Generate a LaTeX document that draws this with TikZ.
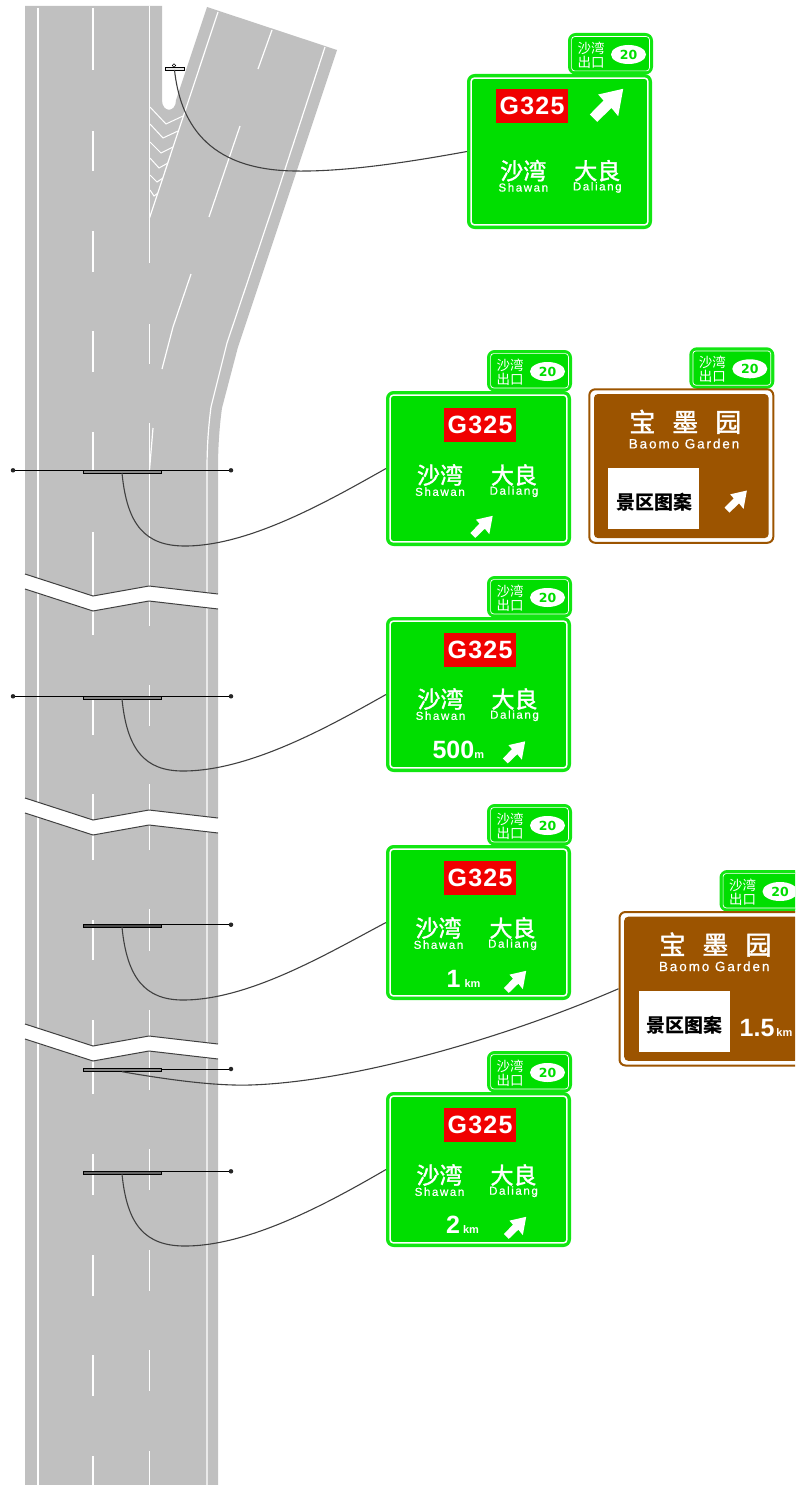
\documentclass[tikz,border=0pt]{standalone}
\usepackage{fontspec}
\setmainfont{Liberation Sans}
\newfontfamily\cjk{Noto Sans CJK SC}
\newfontfamily\cjkmid[FakeBold=1.5]{Noto Sans CJK SC}
\newfontfamily\spaced[LetterSpace=14,FakeBold=0.7]{Liberation Sans}
\newfontfamily\routefont[LetterSpace=5]{Liberation Sans}
\newfontfamily\ovalfont{DejaVu Sans}
\usetikzlibrary{shapes.geometric}
\definecolor{roadgrey}{HTML}{C0C0C0}
\definecolor{signgreen}{HTML}{00DE00}
\definecolor{rimgreen}{HTML}{12E612}
\definecolor{signbrown}{HTML}{9C5400}
\definecolor{routered}{HTML}{F00000}
\definecolor{wiregrey}{HTML}{404040}

% exit tab on top of a panel
\newcommand{\exittab}[1]{
  \node (#1tab)  at (101,-41)   [tabbox] {};
  \draw [tabring] ([shift={(3.6,3.6)}]#1tab.north west) rectangle ([shift={(-3.6,-3.6)}]#1tab.south east);
  \node (#1ta)   at (124,-26)   [tabtext] {沙湾};
  \node (#1tb)   at (124,-12)   [tabtext] {出口};
  \node (#1oval) at (161.5,-19.5) [oval]  {20};
}
% green panel: name, x, y, route x, route y, left name x, name y
\newcommand{\greensign}[7]{
  \begin{scope}[shift={(#2,#3)}]
  \exittab{#1}
  \node (#1) at (0,0) [panel, fill=signgreen, draw=rimgreen, line width=3.5pt, outer sep=1.75pt] {};
  \draw [ring] ([shift={(4.2,4.2)}]#1.north west) rectangle ([shift={(-4.2,-4.2)}]#1.south east);
  \node (#1route) at (#4,#5)            [route]   {G325};
  \node (#1na)    at (#6,#7)            [zhname]  {沙湾};
  \node (#1la)    at (#6,{#7+16.7})     [enname]  {Shawan};
  \node (#1nb)    at ({#6+74},#7)       [zhname]  {大良};
  \node (#1lb)    at ({#6+74},{#7+16.7}) [enname] {Daliang};
  \end{scope}
}
% brown panel: name, x, y
\newcommand{\brownsign}[3]{
  \begin{scope}[shift={(#2,#3)}]
  \exittab{#1}
  \node (#1) at (0,0) [panel, fill=white, draw=signbrown, line width=2pt, outer sep=1pt, minimum width=184pt, minimum height=153.5pt] {};
  \fill [signbrown, rounded corners=4pt] ([shift={(5.7,5.7)}]#1.north west) rectangle ([shift={(-5.7,-5.7)}]#1.south east);
  \node (#1na)  at (97,33.5)    [zhname, font=\cjkmid\fontsize{26}{26}\selectfont] {宝\hspace{17pt}墨\hspace{17pt}园};
  \node (#1la)  at (95.7,55.3)  [enname, font=\spaced\fontsize{13.5}{13.5}\selectfont] {Baomo Garden};
  \node (#1box) at (65.5,110.5) [picbox] {};
  \node (#1pic) at (65.7,114)   [pictext] {景区图案};
  \end{scope}
}
% diagonal arrow on a panel
\newcommand{\signarrow}[3]{
  \fill [white, shift={(#1,#2)}, scale=#3]
    (16.7,-16.7) -- (-8.3,-11) -- (-3,-5) -- (-16.7,9) -- (-9.3,16.3) -- (5,2.5) -- (11.7,10.7) -- cycle;
}

\begin{document}
\begin{tikzpicture}[
  x=1pt, y=-1pt,
  lane/.style    = {white, line width=1.2pt},
  chevron/.style = {white, line width=1pt},
  cutline/.style = {black!75, line width=1pt},
  arm/.style     = {black, line width=0.9pt},
  wire/.style    = {wiregrey, line width=1.1pt},
  gate/.style    = {rectangle, draw=black, fill=black!45, line width=0.8pt, minimum width=78pt, minimum height=3pt, inner sep=0, outer sep=0},
  dot/.style     = {circle, fill=black!85, minimum size=4.5pt, inner sep=0, outer sep=0},
  panel/.style   = {rectangle, anchor=north west, minimum width=181.5pt, minimum height=151.5pt, rounded corners=6pt, inner sep=0},
  ring/.style    = {white, line width=1.5pt, rounded corners=3pt},
  tabbox/.style  = {rectangle, anchor=north west, fill=signgreen, draw=rimgreen, line width=3.5pt, minimum width=81.5pt, minimum height=38pt, rounded corners=6pt, inner sep=0, outer sep=1.75pt},
  tabring/.style = {white, line width=0.7pt, rounded corners=3pt},
  tabtext/.style = {text=white, font=\cjk\fontsize{13.5}{13.5}\selectfont, inner sep=0},
  oval/.style    = {ellipse, fill=white, text=signgreen, minimum width=35pt, minimum height=19pt, inner sep=0, font=\ovalfont\bfseries\fontsize{12.5}{12.5}\selectfont},
  route/.style   = {rectangle, fill=routered, text=white, minimum width=71.5pt, minimum height=34pt, inner sep=0, font=\routefont\bfseries\fontsize{25}{25}\selectfont},
  zhname/.style  = {text=white, inner sep=0, font=\cjkmid\fontsize{23}{23}\selectfont},
  enname/.style  = {text=white, inner sep=0, font=\spaced\fontsize{11.5}{11.5}\selectfont},
  picbox/.style  = {rectangle, fill=white, minimum width=91pt, minimum height=61pt, inner sep=0},
  pictext/.style = {text=black, inner sep=0, font=\cjk\bfseries\fontsize{19}{19}\selectfont},
  dist/.style    = {text=white, inner sep=0, anchor=base, font=\bfseries\fontsize{25}{25}\selectfont},
  ]
  \useasboundingbox (0,0) rectangle (795,1485);
  \clip (0,0) rectangle (795,1485);

  % Road surface
  \fill [roadgrey] (25,6) -- (162,6) -- (162,100) .. controls (162,113) and (176,113) .. (176,100)
    -- (207,7) -- (337,50) -- (287,200) -- (238,347) -- (222,408) .. controls (219,430) and (218,450) .. (218,470)
    -- (218,1485) -- (25,1485) -- cycle;

  % Edge lines
  \draw [lane] (38,8) -- (38,1485);
  \draw [lane] (218,12) -- (149.5,218);
  \draw [lane] (325,47) -- (275,200) -- (227,343) -- (211,407) .. controls (208,430) and (207,450) .. (207,470) -- (207,1485);

  % Dashes
  \foreach \ya/\yb in {8/70, 131/171, 231/272, 331/372, 432/472, 532/596, 611/635, 700/735, 794/820, 834/860, 920/960, 1020/1046, 1061/1094, 1154/1195, 1255/1296, 1355/1396, 1456/1485}
    \draw [lane] (93,\ya) -- (93,\yb);
  \foreach \ya/\yb in {6/263, 324/364, 423/587, 601/626, 685/726, 784/810, 824/850, 909/951, 1010/1036, 1051/1090, 1149/1190, 1250/1291, 1350/1391, 1451/1485}
    \draw [lane] (149.5,\ya) -- (149.5,\yb);
  \draw [lane] (272,30) -- (258,69);
  \draw [lane] (240,126) -- (209,217);
  \draw [lane] (191,274) -- (173,327) -- (162,369);
  \draw [lane] (153,428) -- (149.5,470);

  % Chevrons
  \draw [chevron] (150,107) -- (166,124) -- (183,116);
  \draw [chevron] (150,124) -- (163,138) -- (178,131);
  \draw [chevron] (150,142) -- (161,153) -- (173,147);
  \draw [chevron] (150,158) -- (159,168) -- (168,163);
  \draw [chevron] (150,175) -- (157,182) -- (163,178);
  \draw [chevron] (150,190) -- (154,196) -- (158,193);

  % Breaks in the road
  \foreach \yc in {574,798,1024} {
    \fill [white] (24,\yc) -- (93,\yc+22) -- (149,\yc+12) -- (219,\yc+20) -- (219,\yc+35) -- (149,\yc+27) -- (93,\yc+37) -- (24,\yc+15) -- cycle;
    \draw [cutline] (25,\yc) -- (93,\yc+22) -- (149,\yc+12) -- (218,\yc+20);
    \draw [cutline] (25,\yc+15) -- (93,\yc+37) -- (149,\yc+27) -- (218,\yc+35);
  }

  % Signs
  \greensign{signA}{467}{74}{65}{32.3}{56.3}{96.7}
  \greensign{signB}{386}{391}{94}{33.5}{54}{84}
  \greensign{signC}{386}{617}{94}{33}{54.5}{82}
  \greensign{signD}{386}{845}{94}{33}{52.5}{83}
  \greensign{signE}{386}{1092}{94}{33}{53.5}{83}
  \brownsign{signF}{588.3}{388.3}
  \brownsign{signG}{618.5}{911}

  \signarrow{606.5}{105.5}{1}
  \signarrow{481.5}{527}{0.67}
  \signarrow{514}{752.5}{0.67}
  \signarrow{515}{982}{0.67}
  \signarrow{515}{1228}{0.67}
  \signarrow{735.7}{501.7}{0.67}

  \node (distC) at (458.3,758.3) [dist] {500{\fontsize{11}{11}\selectfont m}};
  \node (distD) at (463.5,987)   [dist] {1\hspace{4pt}{\fontsize{11}{11}\selectfont km}};
  \node (distE) at (462.5,1233)  [dist] {2\hspace{3pt}{\fontsize{11}{11}\selectfont km}};
  \node (distG) at (766,1036.7)  [dist] {1.5\hspace{2pt}{\fontsize{11}{11}\selectfont km}};

  % Gantries
  \node (gateA) at (174.5,68.5) [gate, fill=roadgrey!40, minimum width=19pt] {};
  \node (capA)  at (174,65.5)   [dot, fill=none, draw=black, line width=0.6pt, minimum size=3.5pt] {};

  \node (gateB)  at (122,471.5)  [gate] {};
  \node (leftB)  at (13,470.3)   [dot] {};
  \node (rightB) at (231,470.3)  [dot] {};
  \draw [arm] (leftB) -- (rightB);

  \node (gateC)  at (122,697.5)  [gate, fill=roadgrey!70!black] {};
  \node (leftC)  at (13,696.3)   [dot] {};
  \node (rightC) at (231,696.3)  [dot] {};
  \draw [arm] (leftC) -- (rightC);

  \node (gateD)  at (122,925.7)  [gate, fill=black!70] {};
  \node (rightD) at (231,924.7)  [dot] {};
  \draw [arm] (gateD.east |- rightD) -- (rightD);

  \node (gateG)  at (122,1070.2) [gate, fill=roadgrey!70!black] {};
  \node (rightG) at (231,1069)   [dot] {};
  \draw [arm] (gateG.east |- rightG) -- (rightG);

  \node (gateE)  at (122,1172.5) [gate, fill=black!60] {};
  \node (rightE) at (231,1171.3) [dot] {};
  \draw [arm] (gateE.east |- rightE) -- (rightE);

  % Connections to the signs
  \draw [wire] (gateA.south) .. controls (180,120) and (205,170) .. (295,171) .. controls (350,172) and (420,160) .. (signA.west);
  \draw [wire] (gateB.south) .. controls (127,525) and (145,546) .. (185,546) .. controls (250,546) and (330,500) .. (signB.west);
  \draw [wire] (gateC.south) .. controls (127,750) and (145,771) .. (183,771) .. controls (250,771) and (330,726) .. (signC.west);
  \draw [wire] (gateD.south) .. controls (127,978) and (145,1000) .. (183,1000) .. controls (250,1000) and (330,952) .. (signD.west);
  \draw [wire] (gateG.south) .. controls (170,1080) and (215,1086) .. (250,1085) .. controls (350,1082) and (500,1040) .. (signG.west);
  \draw [wire] (gateE.south) .. controls (127,1225) and (145,1246) .. (185,1246) .. controls (250,1246) and (330,1202) .. (signE.west);
\end{tikzpicture}
\end{document}
